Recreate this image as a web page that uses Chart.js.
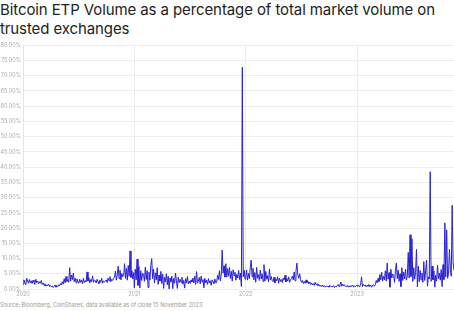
<!DOCTYPE html>
<html><head><meta charset="utf-8">
<script src="https://cdn.jsdelivr.net/npm/chart.js@4/dist/chart.umd.min.js"></script>
<style>
html,body{margin:0;padding:0;background:#fff;width:454px;height:311px;overflow:hidden;}
#title{position:absolute;left:0;top:0px;font-family:Inter,"Open Sans",sans-serif;font-size:15px;line-height:19px;color:#222;width:454px;letter-spacing:-0.1px;}
#wrap{position:absolute;left:0;top:40px;width:454px;height:259px;}
#source{position:absolute;left:0;top:302px;font-family:Inter,sans-serif;font-size:5.5px;color:#999;white-space:nowrap;}
</style></head>
<body>
<div id="title">Bitcoin ETP Volume as a percentage of total market volume on trusted exchanges</div>
<div id="wrap"><canvas id="c"></canvas></div>
<div id="source">Source: Bloomberg, CoinShares, data available as of close 15 November 2023</div>
<script>
// Values in % of total market volume, sampled every 3 days from 1 Jan of each year
const startYear = 2020;
const stepDays = 3;
const yearTicks = [2020, 2021, 2022, 2023];
const values2020 = [
  1.6,3.0,2.2,1.4,3.5,2.6,1.9,3.1,2.0,2.7,
  1.8,2.9,2.3,1.5,3.2,2.1,2.6,1.7,2.4,1.9,
  2.8,1.5,2.0,1.2,1.7,0.9,1.4,1.1,1.6,0.8,
  1.2,0.7,1.0,0.5,0.9,1.3,0.6,1.1,0.8,1.4,
  1.0,1.8,1.3,2.4,1.6,3.4,2.0,4.1,2.5,3.0,
  2.2,7.0,2.6,4.6,3.1,5.2,2.4,3.6,2.0,3.3,
  2.5,1.9,3.2,2.2,2.9,1.7,3.5,2.1,2.8,2.3,
  5.6,2.6,3.8,2.0,3.1,2.4,4.3,2.2,3.0,2.7,
  2.0,3.2,2.4,1.8,2.9,2.2,3.5,1.9,2.6,2.3,
  2.5,3.0,2.1,3.6,2.7,4.1,2.4,3.2,2.8,3.5,
  3.9,5.9,2.9,4.6,7.5,3.4,6.2,3.0,5.1,4.0,
  4.4,8.3,3.5,6.8,2.9,7.7,4.2,12.5,3.8,6.0,3.3,5.4
];
const values2021 = [
  0.4,6.5,3.0,9.8,1.2,7.4,0.3,6.0,2.8,5.2,
  4.8,2.5,7.2,3.1,6.0,0.5,5.5,2.9,7.8,10.0,
  3.4,6.5,2.0,5.3,3.0,7.0,1.5,4.6,2.6,5.8,
  1.8,4.9,0.2,3.8,2.3,5.0,1.4,4.2,0.0,3.6,
  2.4,4.2,0.1,3.5,1.9,5.2,2.7,0.2,3.9,2.1,
  3.2,2.2,3.9,1.6,2.8,0.3,3.4,2.0,4.1,1.7,
  2.6,1.8,3.0,2.3,3.6,2.0,4.2,1.5,5.7,1.9,
  2.6,3.8,1.7,4.2,2.3,3.1,0.4,3.5,2.0,2.9,
  1.5,3.4,2.0,2.7,1.2,3.0,2.4,1.8,3.3,2.1,
  2.2,4.5,3.1,6.0,2.7,4.8,12.8,5.2,7.6,3.9,
  8.3,3.9,6.7,4.2,7.1,3.4,5.8,2.6,6.3,4.4,
  5.5,2.9,4.8,3.6,6.1,3.1,5.2,0.8,72.8,4.0,6.2,3.2
];
const values2022 = [
  3.8,6.2,2.9,5.1,3.4,7.0,9.5,4.0,6.8,3.0,
  5.4,2.2,7.1,3.5,4.7,2.8,6.2,3.3,5.0,2.5,
  8.0,2.6,5.8,3.2,4.4,2.3,6.6,3.0,4.1,2.7,
  2.4,3.9,2.0,3.3,2.7,4.0,1.9,3.5,2.5,3.1,
  2.1,3.6,2.9,4.5,2.3,3.4,2.6,4.0,2.2,3.0,
  3.4,4.2,3.0,5.6,2.7,6.0,8.5,4.6,3.5,5.0,
  3.1,2.2,2.8,1.8,2.5,1.9,3.0,2.1,2.6,1.7,
  2.3,1.5,2.0,1.3,1.8,1.2,2.2,1.4,1.7,1.1,
  1.4,0.9,1.2,0.7,1.3,0.8,1.1,0.6,1.0,0.8,
  1.0,0.6,1.2,0.8,0.9,0.7,1.1,0.5,0.9,0.7,
  1.1,1.5,0.8,1.3,2.3,0.9,1.6,1.0,1.4,0.8,
  0.8,1.2,0.6,1.0,0.7,1.1,0.9,1.3,0.6,1.0,0.8,1.2
];
const values2023 = [
  0.9,1.4,1.1,0.7,1.6,4.0,0.8,1.5,1.0,1.3,
  0.7,1.2,0.9,1.5,0.8,1.3,0.6,1.1,1.4,0.9,
  1.4,2.8,2.0,3.5,2.4,4.8,3.0,5.5,2.6,4.2,
  3.0,6.0,2.6,8.5,3.2,5.4,0.6,6.5,3.6,4.9,
  4.5,2.2,6.0,8.5,3.4,6.2,2.5,5.0,0.8,7.0,
  2.8,5.6,3.3,6.5,2.9,4.4,12.0,3.6,17.8,4.1,
  16.5,2.5,7.0,3.2,5.5,13.0,0.7,7.5,2.4,6.1,
  3.0,5.2,2.2,9.0,2.8,6.0,9.5,0.9,4.0,3.3,
  38.5,2.5,7.5,3.0,6.0,0.6,4.5,2.6,7.8,3.4,
  5.2,2.9,6.4,0.8,8.0,3.1,21.7,4.0,19.4,3.5,
  5.0,13.0,6.5,4.2,27.5,9.0,6.0
];

const yearly = [values2020, values2021, values2022, values2023];
const points = [];
yearly.forEach((vals, k) => {
  vals.forEach((v, i) => {
    points.push({ x: startYear + k + (i * stepDays) / 365, y: v });
  });
});
const lastX = points[points.length - 1].x;

new Chart(document.getElementById('c'), {
  type: 'line',
  data: {
    datasets: [{
      data: points,
      borderColor: '#2a20d4',
      borderWidth: 1,
      pointRadius: 0,
      tension: 0,
      fill: false
    }]
  },
  options: {
    responsive: true,
    maintainAspectRatio: false,
    animation: false,
    layout: { padding: { top: 2, right: 0, left: 0, bottom: 0 } },
    plugins: { legend: { display: false }, tooltip: { enabled: false } },
    scales: {
      x: {
        type: 'linear',
        min: startYear,
        max: lastX,
        afterBuildTicks: (s) => { s.ticks = yearTicks.map(v => ({ value: v })); },
        afterFit: (s) => { s.height = 10; },
        ticks: {
          includeBounds: false,
          stepSize: 1,
          callback: (v) => String(v),
          font: { family: 'Inter', size: 5.5 },
          color: '#aaa',
          padding: 2,
          maxRotation: 0
        },
        grid: { color: '#ececec', lineWidth: 1, drawTicks: false },
        border: { display: false }
      },
      y: {
        min: 0,
        max: 80,
        afterFit: (s) => { s.width = 23; },
        ticks: {
          stepSize: 5,
          callback: (v) => v.toFixed(2) + '%',
          font: { family: 'Inter', size: 5.5 },
          color: '#aaa',
          padding: 2
        },
        grid: { color: '#ececec', lineWidth: 1, drawTicks: false },
        border: { color: '#e4e4e4' }
      }
    }
  }
});
</script>
</body></html>
